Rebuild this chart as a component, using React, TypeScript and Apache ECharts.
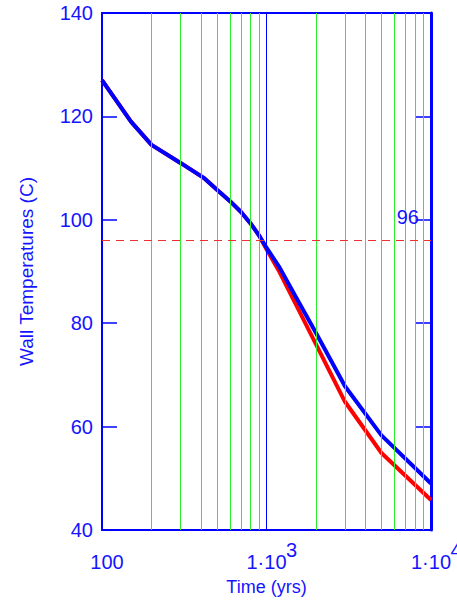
import React, { useEffect, useRef } from "react";
import * as echarts from "echarts";

const times = [100, 150, 200, 300, 420, 500, 600, 700, 800, 900, 1000, 1200, 1500, 2000, 3000, 5000, 10000];
const blueTemps = [127, 119, 114.5, 111, 108, 105.8, 103.6, 101.5, 99.3, 97, 94.6, 90.8, 85.2, 78.1, 67.8, 58.3, 49.0];
const redTemps = [127, 119, 114.5, 111, 108, 105.8, 103.6, 101.5, 99.3, 97, 94.3, 89.9, 83.8, 75.9, 64.8, 54.9, 45.8];
const gridTimes = [200, 300, 400, 500, 600, 700, 800, 900, 2000, 3000, 4000, 5000, 6000, 7000, 8000, 9000];
const refTemp = 96;
const refTime = 1000;

const FONT = "'Liberation Sans', Arial, sans-serif";
const BLUE = "#0000ff";
const TXT = "#1414ff";

export default function App() {
  const ref = useRef<HTMLDivElement>(null);
  useEffect(() => {
    if (!ref.current) return;
    const chart = echarts.init(ref.current, null, { renderer: "svg" });
    const pairs = (ys: number[]) => times.map((t, i) => [t, ys[i]]);
    chart.setOption({
      animation: false,
      grid: { left: 102, right: 26, top: 13, bottom: 70, containLabel: false, outerBoundsMode: "none" },
      xAxis: [
        {
          type: "log",
          logBase: 10,
          min: 100,
          max: 10000,
          name: "Time (yrs)",
          nameLocation: "middle",
          nameGap: 48,
          nameMoveOverlap: false,
          nameTextStyle: { color: TXT, fontSize: 18, fontFamily: FONT },
          axisLine: { show: true, lineStyle: { color: BLUE, width: 2 } },
          axisTick: { show: false },
          splitLine: { show: false },
          axisLabel: {
            margin: 18,
            color: TXT,
            fontSize: 20,
            fontFamily: FONT,
            hideOverlap: false,
            formatter: (v: number) => {
              if (v === 100) return "{s| }\n{p|100}";
              const e = Math.round(Math.log10(v));
              return "{s|" + e + "}\n{a|1·10}";
            },
            rich: {
              p: { fontSize: 20, fontFamily: FONT, color: TXT, lineHeight: 20, padding: [0, 0, 0, 10] },
              a: { fontSize: 20, fontFamily: FONT, color: TXT, lineHeight: 20 },
              s: { fontSize: 20, fontFamily: FONT, color: TXT, lineHeight: 4, padding: [0, 0, 0, 50] },
            },
          },
        },
        {
          type: "log",
          logBase: 10,
          min: 100,
          max: 10000,
          position: "top",
          axisLine: { show: true, lineStyle: { color: BLUE, width: 2 } },
          axisTick: { show: false },
          axisLabel: { show: false },
          splitLine: { show: false },
        },
      ],
      yAxis: [
        {
          type: "value",
          min: 40,
          max: 140,
          interval: 20,
          name: "Wall Temperatures (C)",
          nameLocation: "middle",
          nameGap: 66,
          nameMoveOverlap: false,
          nameTextStyle: { color: TXT, fontSize: 19, fontFamily: FONT },
          axisLine: { show: true, lineStyle: { color: BLUE, width: 2 } },
          axisTick: { show: true, inside: true, length: 15, lineStyle: { color: BLUE, width: 1.5 } },
          axisLabel: { color: TXT, fontSize: 20, fontFamily: FONT, margin: 9 },
          splitLine: { show: false },
        },
        {
          type: "value",
          min: 40,
          max: 140,
          interval: 20,
          position: "right",
          axisLine: { show: true, lineStyle: { color: BLUE, width: 3 } },
          axisTick: { show: true, inside: true, length: 15, lineStyle: { color: BLUE, width: 1.5 } },
          axisLabel: { show: false },
          splitLine: { show: false },
        },
      ],
      series: [
        {
          type: "line",
          data: [],
          z: 1,
          silent: true,
          markLine: {
            silent: true,
            symbol: "none",
            label: { show: false },
            lineStyle: { color: "#2cf02c", width: 1, type: "solid" },
            data: gridTimes.map((t) => ({ xAxis: t })),
          },
        },
        {
          type: "line",
          data: [],
          z: 2,
          silent: true,
          markLine: {
            silent: true,
            symbol: "none",
            label: { show: false },
            lineStyle: { color: BLUE, width: 1, type: "solid" },
            data: [{ xAxis: refTime }],
          },
        },
        {
          type: "line",
          data: [],
          z: 2,
          silent: true,
          markLine: {
            silent: true,
            symbol: "none",
            label: {
              show: true,
              position: "insideEndTop",
              formatter: String(refTemp),
              color: TXT,
              fontSize: 20,
              fontFamily: FONT,
              distance: [12, 13],
            },
            lineStyle: { color: "#ee3030", width: 1, type: [8, 6], opacity: 1 },
            data: [{ yAxis: refTemp }],
          },
        },
        {
          type: "line",
          data: pairs(redTemps),
          z: 3,
          showSymbol: false,
          lineStyle: { color: "#ff0000", width: 4 },
        },
        {
          type: "line",
          data: pairs(blueTemps),
          z: 4,
          showSymbol: false,
          lineStyle: { color: BLUE, width: 4 },
        },
      ],
    });
    return () => chart.dispose();
  }, []);
  return (
    <div
      ref={ref}
      style={{ position: "absolute", left: 0, top: 0, width: 457, height: 600 }}
    />
  );
}
